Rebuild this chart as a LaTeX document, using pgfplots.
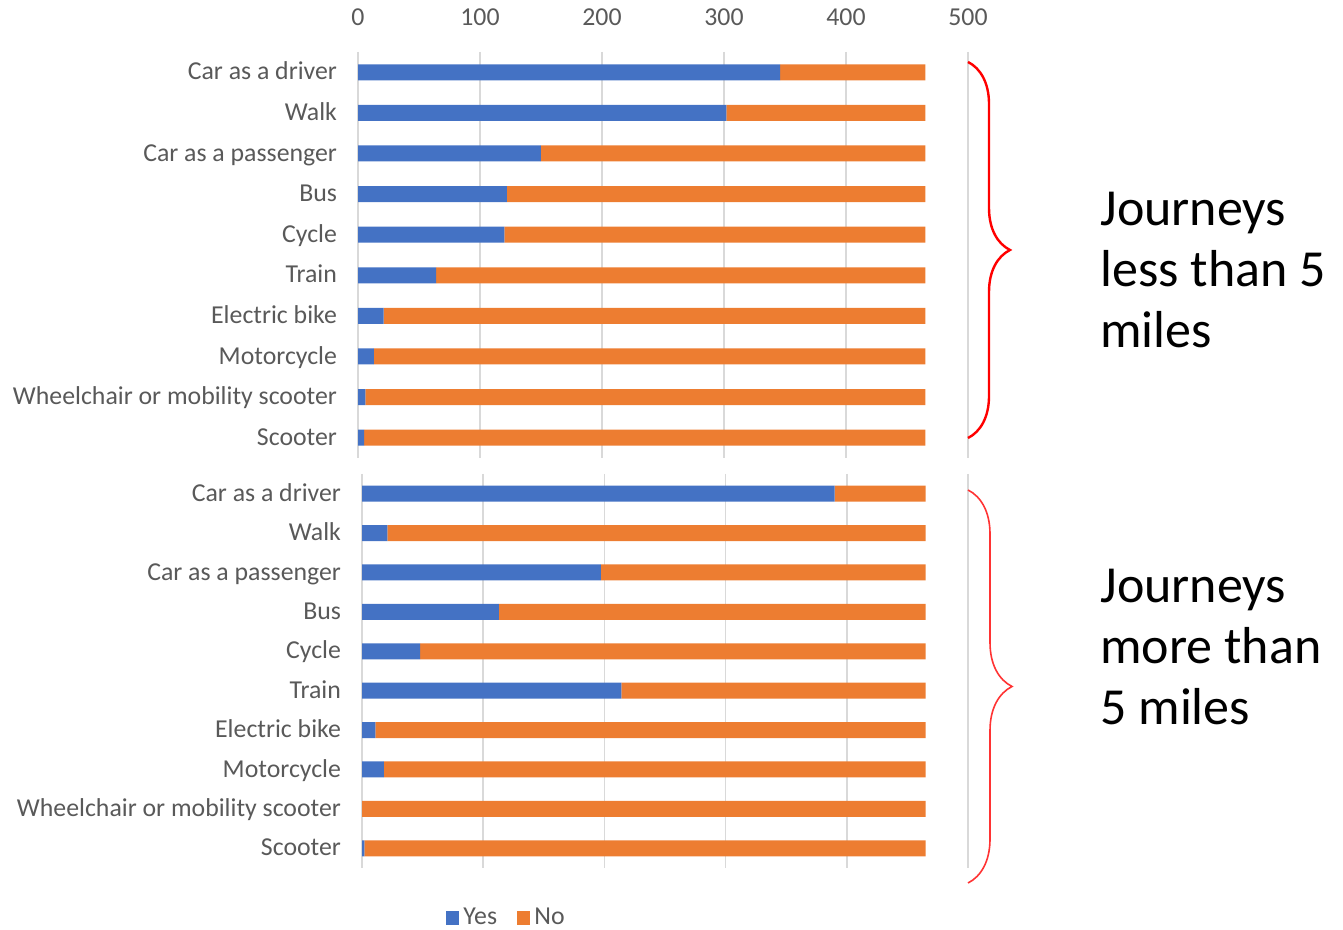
\documentclass[border=0pt]{standalone}
\usepackage{pgfplots}
\pgfplotsset{compat=1.18}
\usepackage{fontspec}
\setmainfont{Carlito}
\usetikzlibrary{decorations.pathreplacing}
\definecolor{cblue}{HTML}{4472C4}
\definecolor{corange}{HTML}{ED7D31}
\definecolor{ctext}{HTML}{595959}
\definecolor{cgrid}{HTML}{D9D9D9}
\begin{document}
\begin{tikzpicture}[x=1pt,y=1pt]
\useasboundingbox (0pt,0pt) rectangle (671.5pt,465pt);
\pgfplotsset{
  mystyle/.style={
    scale only axis,
    xbar stacked,
    xmin=0, xmax=500,
    ymin=-0.5, ymax=9.5,
    y dir=reverse,
    ytick={0,...,9},
    yticklabels={Car as a driver,Walk,Car as a passenger,Bus,Cycle,Train,Electric bike,Motorcycle,Wheelchair or mobility scooter,Scooter},
    xtick={0,100,200,300,400,500},
    xmajorgrids=true,
    grid style={cgrid, line width=0.8pt},
    axis line style={draw=none},
    major tick length=0pt,
    typeset ticklabels with strut,
    tick label style={font=\fontsize{12.9}{14}\selectfont, text=ctext},
    yticklabel style={xshift=-7pt, yshift=-1pt},
    /pgf/number format/assume math mode=true,
    bar width=8pt,
  }
}
% top panel
\begin{axis}[mystyle, at={(179pt,236pt)}, anchor=south west, width=305pt, height=203pt,
  xticklabel pos=upper, xticklabel style={yshift=5.5pt}]
\addplot[fill=cblue, draw=none] coordinates {(346,0) (302,1) (150,2) (122,3) (120,4) (64,5) (21,6) (13,7) (6,8) (5,9)};
\addplot[fill=corange, draw=none] coordinates {(119,0) (163,1) (315,2) (343,3) (345,4) (401,5) (444,6) (452,7) (459,8) (460,9)};
\end{axis}
% bottom panel
\begin{axis}[mystyle, at={(181pt,31pt)}, anchor=south west, width=303pt, height=197pt,
  xticklabels={},
  legend style={at={(0.24,-0.127)}, anchor=center, draw=none, legend columns=2,
    font=\fontsize{12.9}{14}\selectfont, text=ctext, inner sep=1pt,
    /tikz/every even column/.append style={column sep=8pt}},
  legend image code/.code={\fill[#1] (0pt,-3.3pt) rectangle (6.6pt,3.3pt);}]
\addplot[fill=cblue, draw=none] coordinates {(390,0) (21,1) (197,2) (113,3) (48,4) (214,5) (11,6) (18,7) (0,8) (2,9)};
\addplot[fill=corange, draw=none] coordinates {(75,0) (444,1) (268,2) (352,3) (417,4) (251,5) (454,6) (447,7) (465,8) (463,9)};
\legend{Yes,No}
\end{axis}
% braces
\draw[red, line width=1.2pt, decorate, decoration={brace, amplitude=21pt}] (484pt,434pt) -- (484pt,246pt);
\draw[red!80, line width=0.8pt, decorate, decoration={brace, amplitude=22pt}] (484pt,220pt) -- (484pt,23.5pt);
% side text
\begin{scope}[every node/.style={anchor=base west, inner sep=0pt, font=\fontsize{26}{31}\selectfont}]
\node at (550pt,352pt) {Journeys};
\node at (550pt,321.5pt) {less than 5};
\node at (550pt,291pt) {miles};
\node at (550pt,163.5pt) {Journeys};
\node at (550pt,133pt) {more than};
\node at (550pt,102.5pt) {5 miles};
\end{scope}
\end{tikzpicture}
\end{document}
